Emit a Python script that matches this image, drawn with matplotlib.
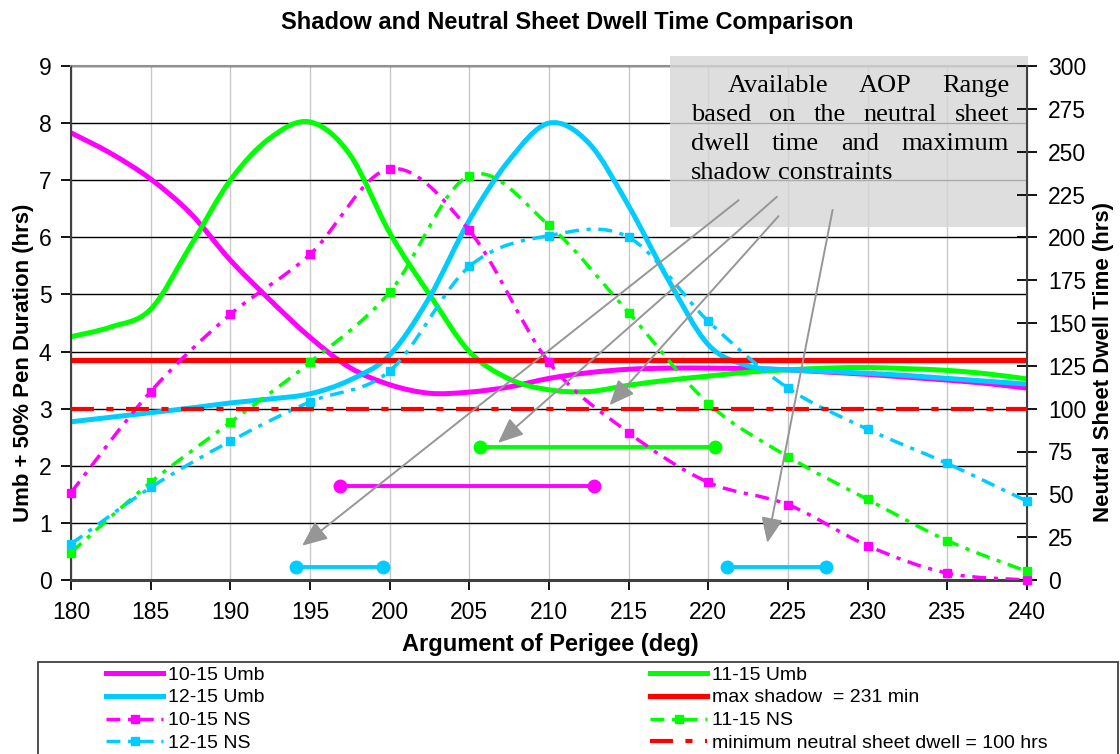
import matplotlib.pyplot as plt
import numpy as np
from matplotlib.path import Path
from matplotlib.patches import PathPatch, Rectangle
from matplotlib.lines import Line2D

plt.rcParams['font.family'] = ['Liberation Sans', 'DejaVu Sans']

# argument of perigee (deg)
aop_umb = np.arange(180, 240.1, 2.5)
aop_ns = np.arange(180, 240.1, 5)

# umbra + 50% penumbra duration (hrs), left axis
umb_10_15 = [7.83, 7.47, 7.02, 6.42, 5.60, 4.90, 4.25, 3.72, 3.42, 3.27, 3.29, 3.38, 3.53,
             3.63, 3.69, 3.71, 3.71, 3.70, 3.68, 3.64, 3.60, 3.55, 3.50, 3.44, 3.36]
umb_11_15 = [4.26, 4.43, 4.74, 5.85, 7.00, 7.74, 8.02, 7.45, 6.08, 5.00, 4.00, 3.52, 3.33,
             3.30, 3.41, 3.50, 3.57, 3.64, 3.68, 3.71, 3.72, 3.70, 3.67, 3.61, 3.52]
umb_12_15 = [2.77, 2.85, 2.93, 3.01, 3.10, 3.17, 3.26, 3.50, 3.94, 4.95, 6.30, 7.35, 8.00,
             7.65, 6.55, 5.25, 4.12, 3.75, 3.68, 3.65, 3.62, 3.58, 3.53, 3.48, 3.43]

# neutral sheet dwell time (hrs), right axis
ns_10_15 = [51, 110, 155, 190, 240, 204, 127, 86, 57, 44, 20, 4, 0]
ns_11_15 = [16, 57, 92, 127, 168, 236, 207, 156, 103, 72, 47, 23, 5]
ns_12_15 = [21, 54, 81, 104, 122, 183, 201, 200, 151, 112, 88, 68, 46]

max_shadow = 231 / 60.0   # hrs
min_dwell = 100           # hrs

# available AOP ranges (start, end, level on left axis)
ranges_10_15 = [(196.9, 212.8, 1.65)]
ranges_11_15 = [(205.7, 220.4, 2.33)]
ranges_12_15 = [(194.1, 199.6, 0.23), (221.2, 227.4, 0.23)]

# arrows from the note box: (start x, start y, end x, end y) in left-axis units
note_arrows = [(221.9, 6.65, 194.5, 0.60),
               (224.3, 6.71, 206.8, 2.40),
               (224.4, 6.37, 213.8, 3.06),
               (227.8, 6.48, 223.7, 0.65)]
note_lines = [["Available", "AOP", "Range"],
              ["based", "on", "the", "neutral", "sheet"],
              ["dwell", "time", "and", "maximum"],
              ["shadow", "constraints"]]

MAG = '#ff00ff'
GRN = '#00ff00'
CYN = '#00ccff'
RED = '#ff0000'
NS_DASH = (4, 2.2, 1.2, 2.2)
MIN_DASH = (5.5, 3, 1.7, 3)

W, H = 1120, 754


def fx(px):
    return px / W


def fy(py):
    return 1 - py / H


def smooth(x, y):
    # bezier path through the points (like a spreadsheet smoothed line)
    pts = np.column_stack([np.asarray(x, float), np.asarray(y, float)])
    n = len(pts)
    verts = [pts[0]]
    codes = [Path.MOVETO]
    for i in range(n - 1):
        p0 = pts[max(i - 1, 0)]
        p1 = pts[i]
        p2 = pts[i + 1]
        p3 = pts[min(i + 2, n - 1)]
        verts += [p1 + (p2 - p0) / 6, p2 - (p3 - p1) / 6, p2]
        codes += [Path.CURVE4] * 3
    return Path(verts, codes)


fig = plt.figure(figsize=(11.2, 7.54), dpi=100)
ax = fig.add_axes([fx(71), fy(580), fx(1027) - fx(71), fy(66) - fy(580)])
ax2 = ax.twinx()

ax.set_xlim(180, 240)
ax.set_ylim(0, 9)
ax2.set_ylim(0, 300)
ax.set_xticks(np.arange(180, 241, 5))
ax.set_yticks(np.arange(0, 10, 1))
ax2.set_yticks(np.arange(0, 301, 25))

ax.xaxis.grid(True, color='#c8c8c8', lw=1)
ax.yaxis.grid(True, color='black', lw=1)
ax.set_axisbelow(True)

for sp in ['left', 'bottom', 'right']:
    ax.spines[sp].set_color('#404040')
    ax2.spines[sp].set_color('#404040')
ax.spines['bottom'].set_linewidth(2.2)
ax.spines['left'].set_linewidth(1.5)
ax2.spines['right'].set_linewidth(1.5)
ax.spines['top'].set_color('#909090')
ax.spines['top'].set_linewidth(1.5)
ax2.spines['top'].set_visible(False)

ax.tick_params(axis='x', direction='out', length=7, width=1.3, pad=8, labelsize=16.5)
ax.tick_params(axis='y', direction='out', length=7, width=1.3, pad=7, labelsize=16.5)
ax2.tick_params(axis='y', direction='inout', length=14, width=1.3, pad=8, labelsize=16.5)

# umbra curves
for vals, col in [(umb_10_15, MAG), (umb_11_15, GRN), (umb_12_15, CYN)]:
    ax.add_patch(PathPatch(smooth(aop_umb, vals), fill=False, ec=col, lw=3.6,
                           capstyle='butt', joinstyle='round', zorder=3))

# max shadow
ax.axhline(max_shadow, color=RED, lw=3.8, zorder=4)

# available ranges
for rng, col in [(ranges_10_15, MAG), (ranges_11_15, GRN), (ranges_12_15, CYN)]:
    for x0, x1, lev in rng:
        ax.plot([x0, x1], [lev, lev], color=col, lw=2.8, marker='o', ms=9, zorder=5,
                clip_on=False)

# neutral sheet curves
for vals, col in [(ns_10_15, MAG), (ns_11_15, GRN), (ns_12_15, CYN)]:
    ax2.add_patch(PathPatch(smooth(aop_ns, vals), fill=False, ec=col, lw=2.5,
                            ls=(0, NS_DASH), capstyle='butt', zorder=3))
    ax2.plot(aop_ns, vals, ls='none', marker='s', ms=5.5, color=col, zorder=4, clip_on=False)

ax2.axhline(min_dwell, color=RED, lw=3, dashes=MIN_DASH, zorder=3)

# note box with justified text
box = Rectangle((217.6, 6.18), 240.07 - 217.6, 9.175 - 6.18, transform=ax.transData,
                facecolor='#d6d6d6', edgecolor='none', alpha=0.8, clip_on=False, zorder=1)
ax2.add_patch(box)

renderer = fig.canvas.get_renderer()
line_specs = [(728, 1009, 92, True), (691, 1009, 121, True),
              (691, 1009, 150, True), (691, 1009, 179, False)]
for words, (x0, x1, yb, just) in zip(note_lines, line_specs):
    txts = [fig.text(0, fy(yb), w, family=['Liberation Serif', 'DejaVu Serif'],
                     fontsize=19, va='baseline', ha='left', zorder=10) for w in words]
    widths = [t.get_window_extent(renderer).width for t in txts]
    gap = (x1 - x0 - sum(widths)) / (len(words) - 1) if just else 6.6
    xp = x0
    for t, w in zip(txts, widths):
        t.set_x(fx(xp))
        xp += w + gap

for sx, sy, ex, ey in note_arrows:
    ax2.annotate('', xy=(ex, ey), xytext=(sx, sy), xycoords=ax.transData,
                 textcoords=ax.transData,
                 arrowprops=dict(arrowstyle='-|>,head_length=0.7,head_width=0.3',
                                 color='#969696', lw=1.4, shrinkA=0, shrinkB=0,
                                 mutation_scale=22), zorder=6)

# titles / labels
fig.text(fx(567), fy(22), 'Shadow and Neutral Sheet Dwell Time Comparison',
         fontsize=17, fontweight='bold', ha='center', va='center')
fig.text(fx(550), fy(645), 'Argument of Perigee (deg)', fontsize=17,
         fontweight='bold', ha='center', va='center')
fig.text(fx(24), fy(363), 'Umb + 50% Pen Duration (hrs)', fontsize=16,
         fontweight='bold', ha='center', va='center', rotation=90)
fig.text(fx(1104), fy(362), 'Neutral Sheet Dwell Time (hrs)', fontsize=16,
         fontweight='bold', ha='center', va='center', rotation=90)

# legend frame and entries
fig.add_artist(Rectangle((fx(38), fy(760)), fx(1118) - fx(38), fy(662) - fy(760),
                         transform=fig.transFigure, facecolor='white',
                         edgecolor='#404040', lw=1.3))

col1 = [Line2D([], [], color=MAG, lw=3.6),
        Line2D([], [], color=CYN, lw=3.6),
        Line2D([], [], color=MAG, lw=2.5, dashes=NS_DASH, marker='s', ms=5.5),
        Line2D([], [], color=CYN, lw=2.5, dashes=NS_DASH, marker='s', ms=5.5)]
lab1 = ['10-15 Umb', '12-15 Umb', '10-15 NS', '12-15 NS']
col2 = [Line2D([], [], color=GRN, lw=3.6),
        Line2D([], [], color=RED, lw=3.8),
        Line2D([], [], color=GRN, lw=2.5, dashes=NS_DASH, marker='s', ms=5.5),
        Line2D([], [], color=RED, lw=3, dashes=MIN_DASH)]
lab2 = ['11-15 Umb', 'max shadow  = 231 min', '11-15 NS',
        'minimum neutral sheet dwell = 100 hrs']

for hs, ls, xl in [(col1, lab1, 106), (col2, lab2, 650)]:
    fig.legend(hs, ls, loc='upper left', bbox_to_anchor=(fx(xl), fy(666)),
               frameon=False, fontsize=14, handlelength=2.95, handletextpad=0.25,
               labelspacing=0.27, borderpad=0, borderaxespad=0, numpoints=1)

fig.savefig('out.png', dpi=100)
